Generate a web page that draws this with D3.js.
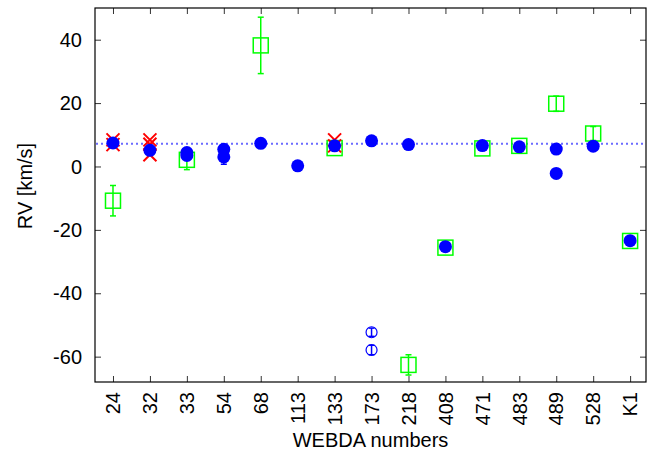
<!DOCTYPE html>
<html>
<head>
<meta charset="utf-8">
<script src="https://cdn.jsdelivr.net/npm/d3@7"></script>
<style>
    body { margin: 0; background: #fff; }
    text { font-family: "Liberation Sans", Arial, sans-serif; }
</style>
</head>
<body>
<div id="chart"></div>
<script>
// categories on the x axis
let categories = ["24", "32", "33", "54", "68", "113", "133", "173", "218", "408", "471", "483", "489", "528", "K1"];
let yTicks = [40, 20, 0, -20, -40, -60];

// green open squares (with error bars)
let sqCat = ["24", "33", "68", "133", "218", "408", "471", "483", "489", "528", "K1"];
let sqVal = [-10.8, 2.1, 38.2, 5.8, -62.6, -25.6, 5.7, 6.5, 19.8, 10.4, -23.5];
let sqErr = [4.8, 3.1, 8.9, 0.8, 3.2, 0.5, 0.5, 0.5, 2.4, 2.2, 0.5];

// red crosses
let xCat = ["24", "24", "32", "32", "32", "133", "133"];
let xVal = [8.4, 6.9, 8.4, 7.0, 3.7, 8.4, 6.5];

// blue filled circles
let cCat = ["24", "32", "33", "33", "54", "54", "68", "113", "133", "173", "218", "408", "471", "483", "489", "489", "528", "K1"];
let cVal = [7.4, 5.1, 4.4, 3.5, 5.4, 3.0, 7.3, 0.2, 6.5, 8.1, 6.9, -25.3, 6.6, 6.2, 5.5, -2.2, 6.4, -23.4];
let cErr = [0, 0, 0, 0, 0, 2.3, 0, 0, 0, 0, 0, 0, 0, 0, 0, 0, 0, 0];

// blue open circles
let oCat = ["173", "173"];
let oVal = [-52.3, -57.9];
let oErr = [1.3, 1.5];

// mean RV line
let meanRV = 7.2;

let W = 647, H = 453;
let margin = {top: 8, right: 1, bottom: 71, left: 95};
let fs = 20;

let svg = d3.select("#chart").append("svg")
    .attr("width", W)
    .attr("height", H);

let x = d3.scaleLinear()
    .domain([-0.487, 14.43])
    .range([margin.left, W - margin.right]);

let y = d3.scaleLinear()
    .domain([-68, 50])
    .range([H - margin.bottom, margin.top]);

let xi = function (c) { return x(categories.indexOf(c)); };

// ticks on all four sides, pointing inward
let idx = d3.range(categories.length);
svg.append("g")
    .attr("transform", "translate(0," + (H - margin.bottom) + ")")
    .call(d3.axisBottom(x).tickValues(idx).tickSize(-6).tickFormat(""))
    .call(g => g.select(".domain").remove());
svg.append("g")
    .attr("transform", "translate(0," + margin.top + ")")
    .call(d3.axisTop(x).tickValues(idx).tickSize(-6).tickFormat(""))
    .call(g => g.select(".domain").remove());
svg.append("g")
    .attr("transform", "translate(" + margin.left + ",0)")
    .call(d3.axisLeft(y).tickValues(yTicks).tickSize(-6).tickFormat(""))
    .call(g => g.select(".domain").remove());
svg.append("g")
    .attr("transform", "translate(" + (W - margin.right) + ",0)")
    .call(d3.axisRight(y).tickValues(yTicks).tickSize(-6).tickFormat(""))
    .call(g => g.select(".domain").remove());

svg.selectAll(".tick line").attr("stroke", "#333").attr("stroke-width", 1);

// tick labels
svg.append("g").selectAll("text")
    .data(yTicks)
    .join("text")
    .attr("x", margin.left - 13)
    .attr("y", d => y(d))
    .attr("dy", "0.36em")
    .attr("text-anchor", "end")
    .attr("font-size", fs)
    .text(d => d);

svg.append("g").selectAll("text")
    .data(categories)
    .join("text")
    .attr("transform", (d, i) => "translate(" + x(i) + "," + (H - margin.bottom + 10) + ") rotate(-90)")
    .attr("dy", "0.36em")
    .attr("text-anchor", "end")
    .attr("font-size", fs)
    .text(d => d);

// axis titles
svg.append("text")
    .attr("x", (margin.left + W - margin.right) / 2)
    .attr("y", 447)
    .attr("text-anchor", "middle")
    .attr("font-size", fs)
    .text("WEBDA numbers");

svg.append("text")
    .attr("transform", "translate(32,186) rotate(-90)")
    .attr("text-anchor", "middle")
    .attr("font-size", fs)
    .text("RV [km/s]");

// mean line
svg.append("line")
    .attr("x1", margin.left + 1)
    .attr("x2", W - margin.right - 1)
    .attr("y1", y(meanRV))
    .attr("y2", y(meanRV))
    .attr("stroke", "#6b6bff")
    .attr("stroke-width", 2)
    .attr("stroke-dasharray", "2,3");

function errBar(g, cx, v, e, color) {
    if (!e) return;
    let y1 = y(v + e), y2 = y(v - e);
    g.append("line").attr("x1", cx).attr("x2", cx).attr("y1", y1).attr("y2", y2)
        .attr("stroke", color).attr("stroke-width", 1.5);
    [y1, y2].forEach(function (yy) {
        g.append("line").attr("x1", cx - 3).attr("x2", cx + 3).attr("y1", yy).attr("y2", yy)
            .attr("stroke", color).attr("stroke-width", 1.5);
    });
}

// green squares
let gSq = svg.append("g");
sqCat.forEach(function (c, i) {
    let cx = xi(c), cy = y(sqVal[i]);
    gSq.append("rect")
        .attr("x", cx - 7.5).attr("y", cy - 7.5)
        .attr("width", 15).attr("height", 15)
        .attr("fill", "none")
        .attr("stroke", "#00ff00")
        .attr("stroke-width", 1.5);
    errBar(gSq, cx, sqVal[i], sqErr[i], "#00ff00");
});

// red crosses
let gX = svg.append("g");
xCat.forEach(function (c, i) {
    let cx = xi(c), cy = y(xVal[i]), s = 6.5;
    gX.append("path")
        .attr("d", "M" + (cx - s) + "," + (cy - s) + "L" + (cx + s) + "," + (cy + s) +
            "M" + (cx - s) + "," + (cy + s) + "L" + (cx + s) + "," + (cy - s))
        .attr("stroke", "#ff0000")
        .attr("stroke-width", 2)
        .attr("fill", "none");
});

// blue filled circles
let gC = svg.append("g");
cCat.forEach(function (c, i) {
    let cx = xi(c);
    errBar(gC, cx, cVal[i], cErr[i], "#0000ff");
    gC.append("circle")
        .attr("cx", cx).attr("cy", y(cVal[i]))
        .attr("r", 6.5)
        .attr("fill", "#0000ff");
});

// blue open circles
let gO = svg.append("g");
oCat.forEach(function (c, i) {
    let cx = xi(c);
    gO.append("circle")
        .attr("cx", cx).attr("cy", y(oVal[i]))
        .attr("r", 5.5)
        .attr("fill", "none")
        .attr("stroke", "#0000ff")
        .attr("stroke-width", 1.2);
    errBar(gO, cx, oVal[i], oErr[i], "#0000ff");
});

// frame
svg.append("rect")
    .attr("x", margin.left).attr("y", margin.top)
    .attr("width", W - margin.right - margin.left)
    .attr("height", H - margin.bottom - margin.top)
    .attr("fill", "none")
    .attr("stroke", "#000")
    .attr("stroke-width", 1.2);
</script>
</body>
</html>
